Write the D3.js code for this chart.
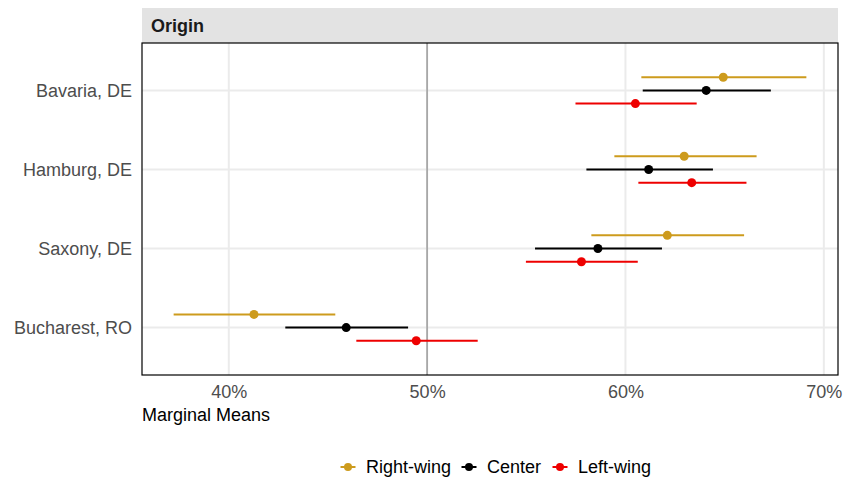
<!DOCTYPE html>
<html>
<head>
<meta charset="utf-8">
<script src="https://cdn.jsdelivr.net/npm/d3@7"></script>
<style>
  body { margin: 0; background: #fff; }
  text { font-family: "Liberation Sans", Arial, sans-serif; }
</style>
</head>
<body>
<svg id="chart" width="844" height="479"></svg>
<script>
// Origin levels, top to bottom
const origins = ["Bavaria, DE", "Hamburg, DE", "Saxony, DE", "Bucharest, RO"];
const groups = ["Right-wing", "Center", "Left-wing"];
const groupColors = ["#CD9B1D", "#000000", "#EE0000"];

// Marginal means (%) with lower / upper confidence bounds, one per origin
const rightEst   = [64.93, 62.96, 62.11, 41.27];
const rightLower = [60.80, 59.44, 58.28, 37.22];
const rightUpper = [69.12, 66.61, 65.98, 45.37];

const centerEst   = [64.07, 61.17, 58.61, 45.92];
const centerLower = [60.87, 58.03, 55.44, 42.85];
const centerUpper = [67.33, 64.41, 61.84, 49.04];

const leftEst   = [60.50, 63.34, 57.78, 49.45];
const leftLower = [57.48, 60.65, 54.98, 46.43];
const leftUpper = [63.59, 66.10, 60.62, 52.55];

const xTicks = [40, 50, 60, 70];
const refLine = 50;

const seriesEst = [rightEst, centerEst, leftEst];
const seriesLo = [rightLower, centerLower, leftLower];
const seriesHi = [rightUpper, centerUpper, leftUpper];

const rows = [];
groups.forEach((g, gi) => {
  origins.forEach((o, oi) => {
    rows.push({ group: g, gi, origin: o, est: seriesEst[gi][oi], lo: seriesLo[gi][oi], hi: seriesHi[gi][oi] });
  });
});

const FS = 18;
const svg = d3.select("#chart");
const panel = { left: 142, right: 838, top: 43, bottom: 375 };
const stripTop = 8;

// x scale with 5% expansion around the data
const allLo = d3.min(rows, d => d.lo), allHi = d3.max(rows, d => d.hi);
const pad = (allHi - allLo) * 0.05;
const x = d3.scaleLinear().domain([allLo - pad, allHi + pad]).range([panel.left, panel.right]);

// discrete y positions with 0.6 step expansion on each side
const y = d3.scalePoint().domain(origins).range([panel.top, panel.bottom]).padding(0.6);
const step = y.step();
const dodge = d3.scalePoint().domain(groups).range([-step / 6, step / 6]);
const color = d3.scaleOrdinal().domain(groups).range(groupColors);

// strip
svg.append("rect").attr("x", panel.left).attr("y", stripTop)
  .attr("width", panel.right - panel.left).attr("height", panel.top - stripTop)
  .attr("fill", "#e3e3e3");
svg.append("text").attr("x", panel.left + 9).attr("y", (stripTop + panel.top) / 2)
  .attr("dy", "0.35em").attr("font-size", FS).attr("font-weight", "bold")
  .attr("fill", "#1a1a1a").text("Origin");

// grid
const grid = svg.append("g");
grid.selectAll("line.v").data(xTicks).join("line")
  .attr("x1", d => x(d)).attr("x2", d => x(d))
  .attr("y1", panel.top).attr("y2", panel.bottom)
  .attr("stroke", "#ebebeb").attr("stroke-width", 2);
grid.selectAll("line.h").data(origins).join("line")
  .attr("x1", panel.left).attr("x2", panel.right)
  .attr("y1", d => y(d)).attr("y2", d => y(d))
  .attr("stroke", "#ebebeb").attr("stroke-width", 2);

// reference line at 50%
svg.append("line").attr("x1", x(refLine)).attr("x2", x(refLine))
  .attr("y1", panel.top).attr("y2", panel.bottom)
  .attr("stroke", "#a8a8a8").attr("stroke-width", 1.8);

// intervals and points
const marks = svg.append("g");
marks.selectAll("line.ci").data(rows).join("line")
  .attr("x1", d => x(d.lo)).attr("x2", d => x(d.hi))
  .attr("y1", d => y(d.origin) + dodge(d.group)).attr("y2", d => y(d.origin) + dodge(d.group))
  .attr("stroke", d => color(d.group)).attr("stroke-width", 2);
marks.selectAll("circle").data(rows).join("circle")
  .attr("cx", d => x(d.est)).attr("cy", d => y(d.origin) + dodge(d.group))
  .attr("r", 4.5).attr("fill", d => color(d.group));

// panel border
svg.append("rect").attr("x", panel.left).attr("y", panel.top)
  .attr("width", panel.right - panel.left).attr("height", panel.bottom - panel.top)
  .attr("fill", "none").attr("stroke", "#000").attr("stroke-width", 1.2);

// x axis
const xAxis = svg.append("g").attr("transform", `translate(0,${panel.bottom})`)
  .call(d3.axisBottom(x).tickValues(xTicks).tickFormat(d => d + "%").tickSize(0).tickPadding(10));
xAxis.select(".domain").remove();
xAxis.selectAll("text").attr("font-size", FS).attr("fill", "#4d4d4d")
  .attr("font-family", "Liberation Sans, Arial, sans-serif");

// y axis
const yAxis = svg.append("g").attr("transform", `translate(${panel.left},0)`)
  .call(d3.axisLeft(y).tickSize(0).tickPadding(10));
yAxis.select(".domain").remove();
yAxis.selectAll("text").attr("font-size", FS).attr("fill", "#4d4d4d")
  .attr("font-family", "Liberation Sans, Arial, sans-serif");

// axis title
svg.append("text").attr("x", panel.left).attr("y", 421)
  .attr("font-size", FS).attr("fill", "#000").text("Marginal Means");

// legend
const legendX = [348, 469, 560];
const legend = svg.append("g");
groups.forEach((g, i) => {
  const cx = legendX[i], cy = 467;
  legend.append("line").attr("x1", cx - 7.5).attr("x2", cx + 7.5).attr("y1", cy).attr("y2", cy)
    .attr("stroke", color(g)).attr("stroke-width", 2);
  legend.append("circle").attr("cx", cx).attr("cy", cy).attr("r", 4).attr("fill", color(g));
  legend.append("text").attr("x", cx + 18).attr("y", cy).attr("dy", "0.35em")
    .attr("font-size", FS).attr("fill", "#000").text(g);
});
</script>
</body>
</html>
